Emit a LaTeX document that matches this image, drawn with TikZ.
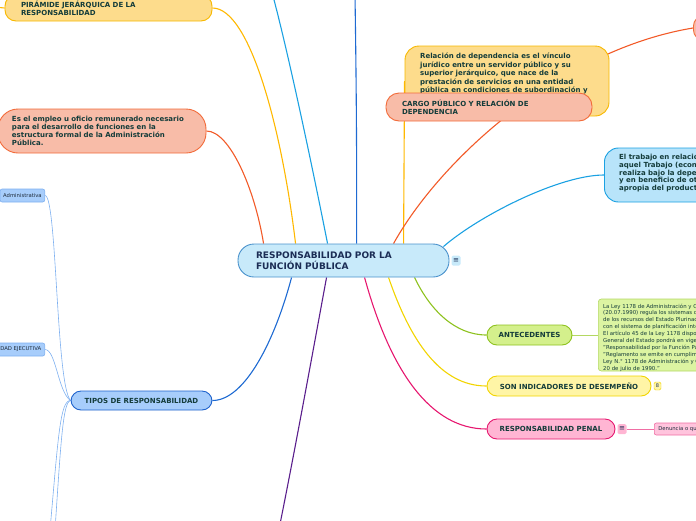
\documentclass[tikz,border=0pt]{standalone}
\usepackage{fontspec}
\setmainfont{DejaVu Sans}
\usetikzlibrary{backgrounds}
\definecolor{txt}{HTML}{143C3A}
\definecolor{navy}{HTML}{1B2D55}
\definecolor{cfill}{HTML}{C8EAFA}
\definecolor{cdraw}{HTML}{4A92CC}
\definecolor{yfill}{HTML}{FDDC8C}
\definecolor{ydraw}{HTML}{F7B800}
\definecolor{sfill}{HTML}{F8BCA8}
\definecolor{sdraw}{HTML}{F26B3A}
\definecolor{lbfill}{HTML}{B8E4FA}
\definecolor{lbdraw}{HTML}{1BA1E2}
\definecolor{gfill}{HTML}{D4F08C}
\definecolor{gdraw}{HTML}{8EC21F}
\definecolor{nfill}{HTML}{DCF4A2}
\definecolor{ndraw}{HTML}{B4D862}
\definecolor{sonfill}{HTML}{FFF5A6}
\definecolor{sondraw}{HTML}{F2D400}
\definecolor{pfill}{HTML}{FFB5D3}
\definecolor{pdraw}{HTML}{E6176F}
\definecolor{denfill}{HTML}{FFC4DD}
\definecolor{dendraw}{HTML}{F06EA4}
\definecolor{bfill}{HTML}{A7CDFB}
\definecolor{bdraw}{HTML}{1E62CC}
\definecolor{bldraw}{HTML}{7EB0F0}
\definecolor{purp}{HTML}{5A1E8C}
\definecolor{lineyel}{HTML}{FFB800}
\definecolor{orng}{HTML}{F25A28}
\definecolor{lblue}{HTML}{1BA1E2}
\definecolor{dblue}{HTML}{1E6AD2}
\definecolor{smalltxt}{HTML}{1E2B3A}
\begin{document}
\begin{tikzpicture}[x=1pt,y=-1pt,
  box/.style={draw, line width=0.9pt, inner sep=0pt, text=txt,
    font=\bfseries\fontsize{7}{8.2}\selectfont},
  tblock/.style={inner sep=0pt, align=left, text=txt},
  smallbox/.style={draw, line width=0.6pt, inner ysep=0pt, rounded corners=2pt,
    text=smalltxt, font=\fontsize{5.3}{6}\selectfont},
  iconbox/.style={inner sep=0pt, rounded corners=1.5pt, minimum width=9, minimum height=10,
    text=navy, font=\fontsize{7}{7}\selectfont},
  conn/.style={line width=1.1pt},
  thinconn/.style={line width=0.6pt}]
\useasboundingbox (0,0) rectangle (696,520);
\clip (0,0) rectangle (696,520);

% ---------- nodes ----------
\node[box, fill=cfill, draw=cdraw, rounded corners=16pt, minimum height=33,
  text width=175, inner xsep=18, align=left, text=navy,
  font=\bfseries\fontsize{9}{10.5}\selectfont] (c) at (343.5,260.5)
  {RESPONSABILIDAD POR LA\\FUNCIÓN PÚBLICA};
\node[iconbox, fill=cfill] (ci) at (456,260.5) {≡};

\node[box, fill=yfill, draw=ydraw, rounded corners=11pt, minimum height=26,
  text width=175, inner xsep=16, align=left] (pyr) at (108.5,8)
  {PIRÁMIDE JERÁRQUICA DE LA\\RESPONSABILIDAD};

\node[box, fill=sfill, draw=sdraw, rounded corners=20pt, minimum height=44,
  text width=180, inner xsep=14, align=left] (emp) at (102,131)
  {Es el empleo u oficio remunerado necesario\\para el desarrollo de funciones en la\\estructura formal de la Administración\\Pública.};

\node[box, fill=yfill, draw=ydraw, rounded corners=14pt, minimum width=204,
  minimum height=70] (rel) at (507,81) {};
\node[tblock, anchor=north west, font=\bfseries\fontsize{7}{8.4}\selectfont] (relt) at (420,53)
  {Relación de dependencia es el vínculo\\jurídico entre un servidor público y su\\superior jerárquico, que nace de la\\prestación de servicios en una entidad\\pública en condiciones de subordinación y};

\node[box, fill=sfill, draw=sdraw, rounded corners=13pt, minimum height=28,
  text width=174, inner xsep=16, align=left] (cargo) at (489,107)
  {CARGO PÚBLICO Y RELACIÓN DE\\DEPENDENCIA};

\node[box, fill=sfill, draw=sdraw, rounded corners=10pt, minimum width=100,
  minimum height=24, anchor=west] (tr) at (693,28) {};

\node[box, fill=lbfill, draw=lbdraw, rounded corners=14pt, minimum width=160,
  minimum height=54, anchor=west] (trab) at (604,175) {};
\node[tblock, anchor=north west, font=\bfseries\fontsize{7}{7.7}\selectfont] (trabt) at (619,154)
  {El trabajo en relación de dependencia es\\aquel Trabajo (económico) que se\\realiza bajo la dependencia de otro\\y en beneficio de otro, que se\\apropia del producto};

\node[box, fill=gfill, draw=gdraw, rounded corners=10pt, minimum width=85,
  minimum height=20] (ant) at (529.5,335) {ANTECEDENTES};
\node[draw=ndraw, fill=nfill, line width=0.6pt, rounded corners=3pt, minimum width=130,
  minimum height=72, anchor=west, inner sep=0pt] (ley) at (598,335) {};
\node[tblock, anchor=north west, font=\fontsize{5.4}{6.9}\selectfont] (leyt) at (603,303.5)
  {La Ley 1178 de Administración y Control\\(20.07.1990) regula los sistemas de Administración\\de los recursos del Estado Plurinacional\\con el sistema de planificación integral\\El artículo 45 de la Ley 1178 dispone que\\General del Estado pondrá en vigencia\\"Responsabilidad por la Función Pública"\\"Reglamento se emite en cumplimiento\\Ley N.° 1178 de Administración y Control\\20 de julio de 1990."};

\node[box, fill=sonfill, draw=sondraw, rounded corners=10pt, minimum width=164,
  minimum height=20] (son) at (569,386) {SON INDICADORES DE DESEMPEÑO};
\node[iconbox, fill=sonfill, draw=sondraw, line width=0.4pt, minimum width=7, minimum height=8,
  font=\fontsize{5}{5}\selectfont] (soni) at (657.5,386) {8};

\node[box, fill=pfill, draw=pdraw, rounded corners=10pt, minimum width=128,
  minimum height=20] (pen) at (551,429) {RESPONSABILIDAD PENAL};
\node[iconbox, fill=pfill] (peni) at (622,429) {≡};
\node[smallbox, fill=denfill, draw=dendraw, anchor=west, minimum height=12,
  inner xsep=4] (den) at (654,429) {Denuncia o querella};

\node[box, fill=bfill, draw=bdraw, rounded corners=10pt, minimum width=141,
  minimum height=19] (tip) at (141.5,400.5) {TIPOS DE RESPONSABILIDAD};
\node[smallbox, fill=bfill, draw=bldraw, anchor=east, minimum height=13,
  inner xsep=3] (adm) at (45,195.5) {Administrativa};
\node[smallbox, fill=bfill, draw=bldraw, anchor=east, minimum height=13,
  inner xsep=3.5] (eje) at (45,349.5) {RESPONSABILIDAD EJECUTIVA};

\coordinate (lft) at (-6,7);
\coordinate (t1) at (273,-4);
\coordinate (t2) at (355,-4);
\coordinate (b1) at (280,524);
\coordinate (b2) at (50,530);
\coordinate (b3) at (55,530);

% ---------- connectors ----------
\begin{scope}[on background layer]
\draw[conn, lineyel] ([xshift=58]c.north west) .. controls (282,130) and (250,8) .. (pyr.east);
\draw[conn, lineyel] (pyr.west) -- (lft);
\draw[conn, orng] ([xshift=26]c.north west) .. controls (255,190) and (230,131) .. (emp.east);
\draw[conn, lblue] ([xshift=90]c.north west) .. controls (315,180) and (290,60) .. (t1);
\draw[conn, dblue] ([xshift=119]c.north west) .. controls (357,150) and (356,60) .. (t2);
\draw[conn, lineyel] ([xshift=166]c.north west) -- (rel.west);
\draw[conn, orng] ([xshift=156]c.north west) .. controls (440,160) and (560,50) .. (tr.west);
\draw[conn, lblue] ([xshift=-6,yshift=-3]c.north east) .. controls (480,215) and (560,175) .. (trab.west);
\draw[conn, gdraw] ([xshift=177]c.south west) .. controls (430,310) and (455,335) .. (ant.west);
\draw[conn, sondraw] ([xshift=151]c.south west) .. controls (410,340) and (440,386) .. (son.west);
\draw[conn, pdraw] ([xshift=127]c.south west) .. controls (390,370) and (430,429) .. (pen.west);
\draw[conn, dblue] ([xshift=54]c.south west) .. controls (275,340) and (245,400.5) .. (tip.east);
\draw[conn, purp] ([xshift=89]c.south west) .. controls (315,340) and (295,450) .. (b1);
\draw[thinconn, ndraw] (ant.east) -- (ley.west);
\draw[thinconn, dendraw] (peni.east) -- (den.west);
\draw[thinconn, bldraw] (adm.east) .. controls (57,195.5) and (56,385) .. (tip.west);
\draw[thinconn, bldraw] (eje.east) .. controls (56,349.5) and (58,392) .. (tip.west);
\draw[thinconn, bldraw] (tip.west) .. controls (60,400) and (58,440) .. (b2);
\draw[thinconn, bldraw] (tip.west) .. controls (63,402) and (61,440) .. (b3);
\end{scope}
\end{tikzpicture}
\end{document}
